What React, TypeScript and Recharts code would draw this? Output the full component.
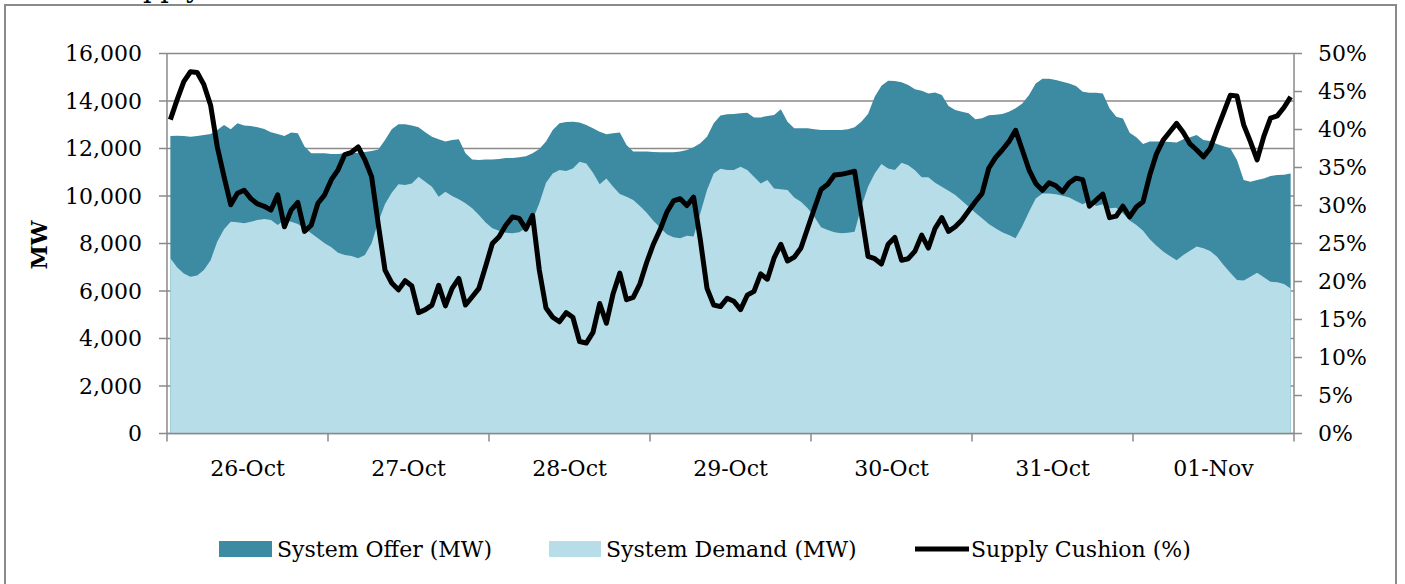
import React from 'react';
import { ComposedChart, Area, Line, XAxis, YAxis, CartesianGrid } from 'recharts';

const DAY_LABELS = ['26-Oct', '27-Oct', '28-Oct', '29-Oct', '30-Oct', '31-Oct', '01-Nov'];
const HOURS_PER_DAY = 24;

const systemOffer = [
  12530, 12540, 12530, 12500, 12530, 12570, 12610, 12780, 12990, 12810, 13060, 12970,
  12950, 12890, 12820, 12680, 12610, 12530, 12670, 12640, 12080, 11800, 11800, 11800,
  11770, 11770, 11800, 11800, 11820, 11850, 11890, 11960, 12360, 12810, 13020, 13020,
  12970, 12890, 12680, 12500, 12390, 12290, 12360, 12390, 11800, 11540, 11520, 11540,
  11540, 11560, 11600, 11600, 11630, 11670, 11800, 11980, 12290, 12780, 13060, 13120,
  13130, 13090, 12990, 12850, 12710, 12600, 12640, 12670, 12150, 11870, 11870, 11870,
  11850, 11840, 11840, 11840, 11870, 11940, 12050, 12220, 12500, 13060, 13390, 13440,
  13450, 13480, 13510, 13310, 13310, 13370, 13410, 13650, 13130, 12850, 12850, 12850,
  12810, 12780, 12780, 12780, 12780, 12810, 12890, 13130, 13450, 14180, 14640, 14850,
  14840, 14790, 14670, 14490, 14430, 14320, 14360, 14250, 13790, 13620, 13550, 13480,
  13230, 13270, 13400, 13420, 13450, 13550, 13690, 13900, 14250, 14740, 14940, 14940,
  14880, 14810, 14740, 14630, 14390, 14350, 14350, 14320, 13700, 13340, 13260, 12660,
  12470, 12190, 12290, 12290, 12290, 12270, 12250, 12390, 12470, 12570, 12360, 12320,
  12190, 12100, 12010, 11520, 10670, 10600, 10670, 10740, 10840, 10880, 10900, 10950,
];

const systemDemand = [
  7380, 7000, 6740, 6600, 6650, 6880, 7300, 8080, 8600, 8920, 8890, 8850,
  8920, 8990, 9030, 8990, 8780, 8990, 8920, 8820, 8640, 8430, 8220, 8010,
  7840, 7610, 7520, 7470, 7380, 7520, 8010, 8920, 9660, 10140, 10500, 10460,
  10530, 10810, 10600, 10390, 9970, 10180, 10000, 9860, 9690, 9480, 9200, 8880,
  8640, 8540, 8450, 8430, 8470, 8640, 8990, 9690, 10560, 10950, 11090, 11050,
  11160, 11440, 11370, 10980, 10500, 10740, 10390, 10080, 9970, 9830, 9580, 9300,
  8960, 8670, 8390, 8260, 8220, 8330, 8290, 9270, 10250, 10950, 11150, 11090,
  11090, 11230, 11090, 10810, 10530, 10670, 10320, 10280, 10250, 9940, 9760, 9480,
  9130, 8680, 8570, 8470, 8430, 8450, 8500, 9550, 10390, 10950, 11350, 11160,
  11090, 11400, 11300, 11080, 10790, 10790, 10560, 10390, 10220, 10040, 9800, 9550,
  9300, 9060, 8820, 8640, 8470, 8360, 8220, 8740, 9340, 9900, 10110, 10110,
  10070, 10010, 9940, 9790, 9650, 9800, 9580, 9650, 9480, 9510, 9270, 8970,
  8780, 8540, 8180, 7910, 7660, 7470, 7300, 7520, 7700, 7870, 7800, 7680,
  7450, 7090, 6770, 6460, 6440, 6600, 6770, 6580, 6390, 6370, 6290, 6110,
];

const supplyCushion = [
  41.3, 43.9, 46.3, 47.6, 47.5, 45.9, 43.2, 37.7, 33.8, 30.1, 31.6, 32.0,
  30.9, 30.2, 29.9, 29.4, 31.4, 27.2, 29.4, 30.4, 26.6, 27.4, 30.3, 31.4,
  33.4, 34.7, 36.7, 37.0, 37.7, 36.0, 33.8, 27.5, 21.5, 19.8, 18.9, 20.1,
  19.4, 15.9, 16.3, 16.9, 19.5, 16.8, 19.1, 20.4, 16.9, 18.0, 19.1, 22.0,
  25.0, 25.9, 27.4, 28.5, 28.3, 26.9, 28.7, 21.5, 16.5, 15.3, 14.7, 15.9,
  15.3, 12.1, 11.9, 13.3, 17.1, 14.5, 18.4, 21.1, 17.6, 17.9, 19.7, 22.5,
  24.9, 26.8, 29.1, 30.6, 30.9, 30.0, 31.1, 25.5, 19.1, 16.9, 16.7, 17.8,
  17.4, 16.3, 18.2, 18.7, 21.0, 20.3, 23.1, 24.9, 22.7, 23.2, 24.4, 27.0,
  29.6, 32.1, 32.8, 34.0, 34.1, 34.3, 34.5, 29.0, 23.3, 23.0, 22.3, 24.9,
  25.8, 22.8, 23.0, 24.0, 26.1, 24.4, 27.0, 28.4, 26.6, 27.2, 28.1, 29.3,
  30.5, 31.6, 34.9, 36.3, 37.3, 38.4, 39.9, 37.3, 34.7, 32.9, 32.0, 33.0,
  32.6, 31.8, 33.0, 33.6, 33.4, 29.9, 30.7, 31.5, 28.4, 28.6, 29.9, 28.5,
  29.8, 30.5, 34.0, 36.8, 38.6, 39.7, 40.8, 39.6, 38.1, 37.3, 36.4, 37.5,
  39.9, 42.2, 44.5, 44.4, 40.6, 38.4, 36.0, 39.1, 41.5, 41.8, 42.9, 44.3,
];

const MW_TICKS = [0, 2000, 4000, 6000, 8000, 10000, 12000, 14000, 16000];
const PCT_TICKS = [0, 5, 10, 15, 20, 25, 30, 35, 40, 45, 50];

const SERIES_NAMES = ['System Offer (MW)', 'System Demand (MW)', 'Supply Cushion (%)'];

const data = systemOffer.map((offer, i) => ({
  idx: i,
  offer,
  demand: systemDemand[i],
  cushion: supplyCushion[i],
}));

const dayBoundaries = [...DAY_LABELS.map((_, k) => k * HOURS_PER_DAY - 0.5), DAY_LABELS.length * HOURS_PER_DAY - 0.5];

const OFFER_COLOR = '#3D8BA3';
const DEMAND_COLOR = '#B7DDE8';
const AXIS_COLOR = '#8A8A8A';
const FONT = '"DejaVu Serif", serif';

const CHART_W = 1405;
const CHART_H = 584;
const PLOT_LEFT = 167;
const PLOT_RIGHT = 1294;
const DAY_PX = (PLOT_RIGHT - PLOT_LEFT) / DAY_LABELS.length;

const DayTick = (props: any) => {
  const { x, y, payload } = props;
  const k = Math.round((payload.value + 0.5) / HOURS_PER_DAY);
  if (k >= DAY_LABELS.length) return null;
  return (
    <text x={x + DAY_PX / 2} y={y} dy="0.71em" textAnchor="middle" fontFamily={FONT} fontSize={22} fill="#000">
      {DAY_LABELS[k]}
    </text>
  );
};

export default function App() {
  return (
    <div style={{ position: 'absolute', left: 0, top: 0, width: CHART_W, height: CHART_H, background: '#fff', overflow: 'hidden' }}>
      <div style={{ position: 'absolute', left: 4, top: 4, width: 1393, height: 620, border: `2px solid ${AXIS_COLOR}`, boxSizing: 'border-box' }} />
      <div style={{ position: 'absolute', left: 0, top: 0 }}>
        <ComposedChart
          width={CHART_W}
          height={CHART_H}
          data={data}
          margin={{ top: 53.5, right: 0, bottom: 110.5, left: 0 }}
        >
          <CartesianGrid yAxisId="mw" vertical={false} stroke={AXIS_COLOR} strokeWidth={1.5} />
          <XAxis
            type="number"
            dataKey="idx"
            domain={[-0.5, 167.5]}
            ticks={dayBoundaries}
            interval={0}
            height={40}
            tickSize={8}
            tickMargin={19}
            axisLine={{ stroke: AXIS_COLOR, strokeWidth: 1.5 }}
            tickLine={{ stroke: AXIS_COLOR, strokeWidth: 1.5 }}
            tick={<DayTick />}
          />
          <YAxis
            yAxisId="mw"
            orientation="left"
            width={167}
            domain={[0, 16000]}
            ticks={MW_TICKS}
            interval={0}
            tickSize={8}
            tickMargin={17}
            axisLine={{ stroke: AXIS_COLOR, strokeWidth: 1.5 }}
            tickLine={{ stroke: AXIS_COLOR, strokeWidth: 1.5 }}
            tick={{ fontFamily: FONT, fontSize: 22, fill: '#000' }}
            tickFormatter={(v: number) => v.toLocaleString('en-US')}
          />
          <YAxis
            yAxisId="pct"
            orientation="right"
            width={111}
            domain={[0, 50]}
            ticks={PCT_TICKS}
            interval={0}
            tickSize={8}
            tickMargin={16}
            axisLine={{ stroke: AXIS_COLOR, strokeWidth: 1.5 }}
            tickLine={{ stroke: AXIS_COLOR, strokeWidth: 1.5 }}
            tick={{ fontFamily: FONT, fontSize: 22, fill: '#000', textAnchor: 'start' }}
            tickFormatter={(v: number) => `${v}%`}
          />
          <Area
            yAxisId="mw"
            type="linear"
            dataKey="offer"
            name={SERIES_NAMES[0]}
            fill={OFFER_COLOR}
            fillOpacity={1}
            stroke="none"
            isAnimationActive={false}
          />
          <Area
            yAxisId="mw"
            type="linear"
            dataKey="demand"
            name={SERIES_NAMES[1]}
            fill={DEMAND_COLOR}
            fillOpacity={1}
            stroke="none"
            isAnimationActive={false}
          />
          <Line
            yAxisId="pct"
            type="linear"
            dataKey="cushion"
            name={SERIES_NAMES[2]}
            stroke="#000"
            strokeWidth={5}
            strokeLinejoin="round"
            dot={false}
            activeDot={false}
            isAnimationActive={false}
          />
        </ComposedChart>
      </div>
      <svg width={CHART_W} height={CHART_H} style={{ position: 'absolute', left: 0, top: 0, pointerEvents: 'none' }}>
        <text x={107} y={-3} fontFamily={FONT} fontSize={27} fill="#000">Supply Cushion</text>
        <text
          x={0}
          y={0}
          transform="translate(47 245) rotate(-90)"
          textAnchor="middle"
          fontFamily={FONT}
          fontWeight="bold"
          fontSize={22}
          fill="#000"
        >
          MW
        </text>
        <rect x={219} y={541} width={53} height={16} fill={OFFER_COLOR} />
        <text x={277} y={557} fontFamily={FONT} fontSize={22} fill="#000">{SERIES_NAMES[0]}</text>
        <rect x={549} y={541} width={52} height={16} fill={DEMAND_COLOR} />
        <text x={606} y={557} fontFamily={FONT} fontSize={22} fill="#000">{SERIES_NAMES[1]}</text>
        <line x1={915} y1={549} x2={969} y2={549} stroke="#000" strokeWidth={5} />
        <text x={971} y={557} fontFamily={FONT} fontSize={22} fill="#000">{SERIES_NAMES[2]}</text>
      </svg>
    </div>
  );
}
